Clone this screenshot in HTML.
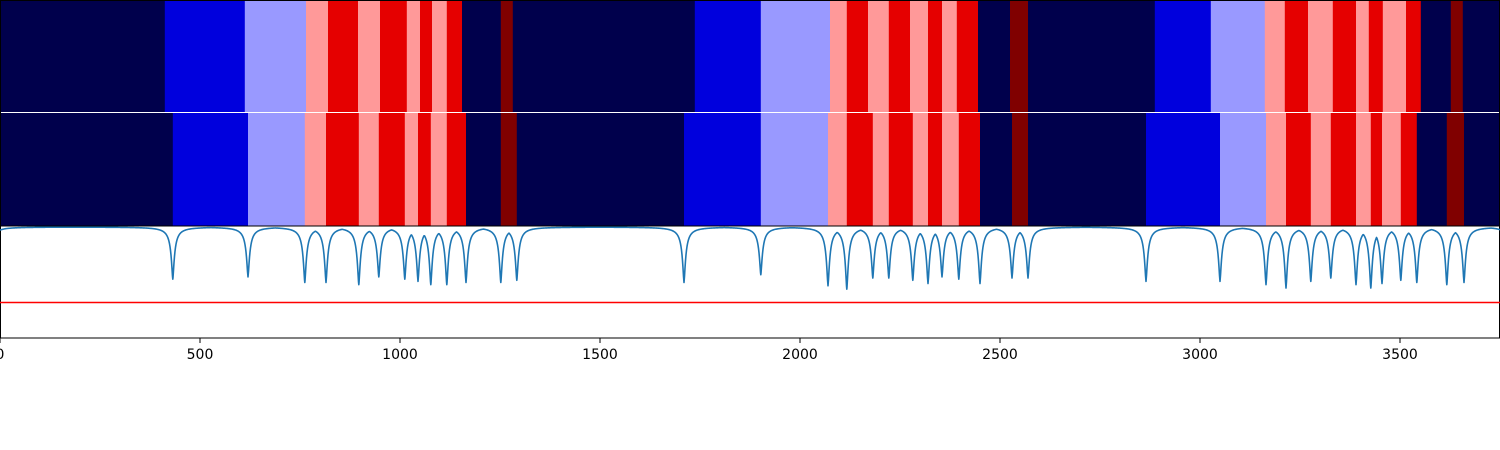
<!DOCTYPE html>
<html><head><meta charset="utf-8"><style>
html,body{margin:0;padding:0;background:#fff;}
svg{display:block;font-family:"DejaVu Sans","Liberation Sans",sans-serif;}
</style></head><body>
<svg id="chart" width="1500" height="450" viewBox="0 0 1500 450" xmlns="http://www.w3.org/2000/svg"></svg>
<script>
// ---- data ----
const xTicks = [0, 500, 1000, 1500, 2000, 2500, 3000, 3500];
const row1Bounds = [0,412,612,765,820,895,950,1017,1050,1080,1117,1155,1252,1282,1737,1902,2075,2117,2170,2222,2275,2320,2355,2392,2445,2525,2570,2887,3027,3162,3212,3270,3332,3390,3422,3457,3515,3552,3627,3657,3750];
const row1Cats   = [0,1,2,3,4,3,4,3,4,3,4,0,5,0,1,2,3,4,3,4,3,4,3,4,0,5,0,1,2,3,4,3,4,3,4,3,4,0,5,0];
const row2Bounds = [0,432,620,762,815,897,947,1012,1045,1077,1117,1165,1252,1292,1710,1902,2070,2117,2182,2222,2282,2320,2355,2397,2450,2530,2570,2865,3050,3165,3215,3277,3327,3390,3427,3455,3502,3542,3617,3660,3750];
const row2Cats   = [0,1,2,3,4,3,4,3,4,3,4,0,5,0,1,2,3,4,3,4,3,4,3,4,0,5,0,1,2,3,4,3,4,3,4,3,4,0,5,0];
const dipPos   = [-25,432,620,762,815,897,947,1012,1045,1077,1117,1165,1252,1292,1710,1902,2070,2117,2182,2222,2282,2320,2355,2397,2450,2530,2570,2865,3050,3165,3215,3277,3327,3390,3427,3455,3502,3542,3617,3660,3775];
const dipDepth = [0.35,0.47,0.45,0.5,0.5,0.52,0.45,0.47,0.49,0.52,0.52,0.5,0.5,0.48,0.5,0.43,0.53,0.56,0.46,0.46,0.48,0.51,0.45,0.47,0.51,0.46,0.46,0.49,0.49,0.52,0.55,0.49,0.46,0.52,0.55,0.51,0.48,0.5,0.52,0.5,0.3];
const threshold = [0.32];
const palette = ['#00004c','#0000dd','#9999ff','#ff9999','#e50000','#800000'];

// ---- scales ----
const X0 = 0, X1 = 1500, XMAX = 3750;
const xs = v => X0 + v * (X1 - X0) / XMAX;
const yLine = v => 338 - v * 111;
const svg = document.getElementById('chart');
const NS = 'http://www.w3.org/2000/svg';
function mk(tag, attrs) { const e = document.createElementNS(NS, tag); for (const k in attrs) e.setAttribute(k, attrs[k]); svg.appendChild(e); return e; }

function drawRow(bounds, cats, y, h, name) {
  for (let i = 0; i < cats.length; i++) {
    const x = xs(bounds[i]), w = xs(bounds[i + 1]) - x;
    const r = mk('rect', {x: x, y: y, width: w + 0.4, height: h, fill: palette[cats[i]]});
    
    
  }
}
drawRow(row1Bounds, row1Cats, 0, 112, 'row1');
drawRow(row2Bounds, row2Cats, 113, 113, 'row2');
const sep = mk('rect', {x: 0, y: 112, width: 1500, height: 1, fill: '#ffffff'});



const panel = mk('rect', {x: 0.5, y: 226, width: 1499, height: 112, fill: '#fff', stroke: '#000', 'stroke-width': 1});



const thr = mk('line', {x1: 0, x2: 1500, y1: yLine(threshold[0]), y2: yLine(threshold[0]), stroke: '#ff0000', 'stroke-width': 1.5});



function valAt(v) {
  let m = 0;
  for (let i = 0; i < dipPos.length; i++) {
    const t = Math.abs(v - dipPos[i]);
    const g = dipDepth[i] / (1 + Math.pow(t / 5, 1.5));
    if (g > m) m = g;
  }
  return 1 - m;
}
let xsamp = [];
for (let px = 0; px <= 1500; px += 0.5) xsamp.push(px * XMAX / 1500);
dipPos.forEach(d => { if (d >= 0 && d <= XMAX) xsamp.push(d); });
xsamp.sort((a, b) => a - b);
const pts = xsamp.map(v => xs(v).toFixed(2) + ',' + yLine(valAt(v)).toFixed(2));
const path = mk('polyline', {points: pts.join(' '), fill: 'none', stroke: '#1f77b4', 'stroke-width': 1.6, 'stroke-linejoin': 'round'});



const topBorder = mk('rect', {x: 0.5, y: 0.5, width: 1499, height: 225.5, fill: 'none', stroke: '#000', 'stroke-width': 1});



xTicks.forEach(t => {
  const x = xs(t);
  const tk = mk('line', {x1: x, x2: x, y1: 338, y2: 343, stroke: '#000', 'stroke-width': 1});
  
  
  const lb = mk('text', {x: x, y: 359, 'text-anchor': 'middle', 'font-size': 14, fill: '#000'});
  lb.textContent = t;
  
  
});
</script>
</body></html>
